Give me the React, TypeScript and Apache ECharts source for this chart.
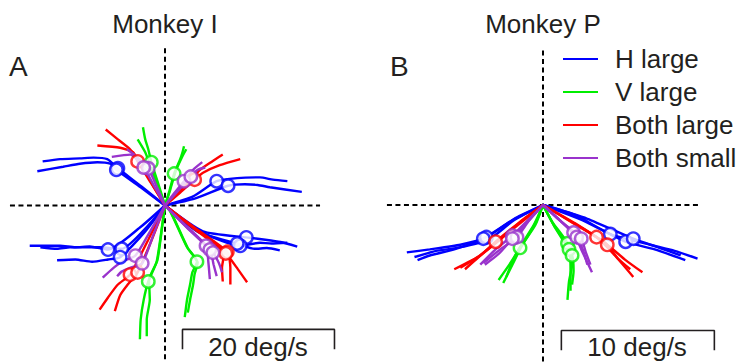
import React, { useEffect, useRef } from "react";
import * as echarts from "echarts";

type Pt = [number, number];

const CONDITIONS = ["H large", "V large", "Both large", "Both small"];
const COLORS = ["#0000ff", "#00ee00", "#ff0000", "#9933cc"];
const TITLES = ["Monkey I", "Monkey P"];
const PANEL_LETTERS = ["A", "B"];
const SCALE_LABELS = ["20 deg/s", "10 deg/s"];

// Panel A (Monkey I) trajectories, deg/s
const A_H_LARGE: Pt[][] = [
  [[0, 0], [-3.1, 2.5], [-6.2, 4.9], [-7.6, 6.1], [-9.4, 6.3], [-11.2, 6.2], [-13.8, 6.1], [-16.1, 5.8]],
  [[0, 0], [-3.2, 2.4], [-6.4, 4.7], [-7.2, 5.5], [-8.9, 5.7], [-11.2, 5.5], [-13.4, 5.1], [-16.8, 4.5]],
  [[0, 0], [3.7, 1.2], [6.8, 3.2], [9.5, 3.6], [12.5, 3.7], [14.2, 3.4], [16.1, 3.2]],
  [[0, 0], [3.9, 0.9], [8.3, 2.6], [10.5, 2.8], [12.2, 2.7], [13.8, 2.4], [18.0, 1.8]],
  [[0, 0], [-3.3, -2.9], [-7.5, -5.8], [-9.9, -5.4], [-11.8, -5.5], [-13.8, -5.3], [-17.8, -5.3]],
  [[0, 0], [-2.2, -2.6], [-5.7, -5.7], [-8.6, -5.5], [-12.5, -5.5], [-14.2, -5.7], [-16.4, -5.5]],
  [[0, 0], [-2.6, -3.4], [-5.9, -6.8], [-7.5, -7.1], [-9.6, -7.4], [-11.8, -7.1], [-14.2, -7.2]],
  [[0, 0], [5.0, -3.4], [10.7, -4.2], [13.2, -4.5], [15.2, -4.8], [17.4, -5.4]],
  [[0, 0], [4.6, -3.4], [9.9, -5.3], [12.5, -4.9], [14.0, -5.0], [16.1, -4.9]],
  [[0, 0], [4.4, -3.5], [9.5, -5.0], [11.8, -5.7], [13.4, -5.6], [15.1, -5.9]],
];
const A_H_LARGE_MARKS: Pt[] = [
  [-6.2, 4.9], [-6.4, 4.7], [6.8, 3.2], [8.3, 2.6],
  [-7.5, -5.8], [-5.7, -5.7], [-5.9, -6.8], [10.7, -4.2], [9.9, -5.3], [9.5, -5.0],
];
const A_V_LARGE: Pt[][] = [
  [[0, 0], [-0.8, 2.6], [-1.8, 5.7], [-2.2, 7.4], [-2.6, 8.7], [-2.9, 10.3]],
  [[0, 0], [-0.9, 2.5], [-2.0, 5.4], [-2.6, 7.0], [-3.6, 8.7]],
  [[0, 0], [0.6, 2.0], [1.2, 4.2], [2.0, 6.1], [2.3, 7.0], [2.5, 7.8]],
  [[0, 0], [0.7, 2.1], [1.4, 4.5], [2.2, 6.3], [2.8, 7.4]],
  [[0, 0], [-0.3, -2.1], [-1.1, -7.4], [-2.2, -10.0], [-2.8, -12.4], [-3.2, -15.0], [-3.3, -17.6]],
  [[0, 0], [-0.3, -2.2], [-1.0, -7.2], [-2.1, -9.8], [-2.0, -12.4], [-2.4, -15.0], [-2.4, -17.2]],
  [[0, 0], [0.7, -0.8], [2.9, -5.5], [4.2, -7.4], [3.6, -8.8], [3.3, -10.4], [2.9, -12.4], [2.6, -14.7]],
  [[0, 0], [0.8, -0.9], [3.0, -5.6], [4.3, -7.5], [3.9, -9.0], [3.7, -10.4], [3.3, -12.4], [3.0, -14.1]],
];
const A_V_LARGE_MARKS: Pt[] = [
  [-1.8, 5.7], [1.2, 4.2], [-2.2, -10.0], [4.2, -7.4],
];
const A_BOTH_LARGE: Pt[][] = [
  [[0, 0], [-1.8, 2.9], [-3.6, 5.8], [-4.2, 7.0], [-5.9, 7.6], [-8.9, 7.9]],
  [[0, 0], [-1.7, 2.8], [-3.3, 5.7], [-4.6, 7.4], [-6.2, 8.7], [-7.8, 10.0]],
  [[0, 0], [2.0, 1.7], [3.9, 3.4], [5.0, 4.3], [7.2, 5.3], [9.9, 6.1]],
  [[0, 0], [1.9, 1.9], [3.7, 3.7], [4.6, 4.7], [6.2, 5.8], [7.6, 6.7]],
  [[0, 0], [-2.2, -4.5], [-4.6, -9.1], [-6.2, -10.4], [-7.5, -12.1], [-8.6, -13.7]],
  [[0, 0], [-1.7, -4.4], [-3.6, -8.8], [-4.9, -10.4], [-5.9, -11.8], [-6.6, -13.9]],
  [[0, 0], [4.0, -3.0], [8.2, -6.1], [8.6, -8.2], [8.6, -10.4]],
  [[0, 0], [3.9, -3.1], [8.0, -6.3], [9.6, -8.4], [10.8, -10.1]],
  [[0, 0], [3.8, -3.0], [7.8, -6.2], [7.5, -8.2], [7.6, -10.0]],
];
const A_BOTH_LARGE_MARKS: Pt[] = [
  [-3.6, 5.8], [3.9, 3.4], [-4.6, -9.1], [-3.6, -8.8], [8.2, -6.1], [8.0, -6.3],
];
const A_BOTH_SMALL: Pt[][] = [
  [[0, 0], [-1.1, 2.5], [-2.2, 4.9], [-3.7, 6.4], [-5.0, 7.4]],
  [[0, 0], [-1.4, 2.5], [-2.8, 5.0], [-4.6, 6.7], [-7.0, 6.4]],
  [[0, 0], [1.2, 1.6], [2.5, 3.2], [3.7, 4.7], [4.9, 5.7]],
  [[0, 0], [1.7, 1.9], [3.4, 3.8], [4.3, 4.7], [5.3, 5.0]],
  [[0, 0], [-1.9, -3.3], [-3.9, -6.6], [-5.7, -7.4], [-7.0, -8.4], [-8.2, -9.5]],
  [[0, 0], [-1.5, -3.8], [-3.0, -7.6], [-4.6, -8.2], [-5.7, -8.7], [-6.3, -9.3]],
  [[0, 0], [2.7, -2.6], [5.4, -5.3], [5.7, -7.4], [5.9, -9.7]],
  [[0, 0], [2.9, -2.9], [5.9, -5.8], [6.4, -7.8], [6.8, -9.3]],
  [[0, 0], [3.1, -3.1], [6.3, -6.2], [7.1, -7.6], [7.5, -8.8]],
];
const A_BOTH_SMALL_MARKS: Pt[] = [
  [-2.2, 4.9], [-2.8, 5.0], [2.5, 3.2], [3.4, 3.8],
  [-3.9, -6.6], [-3.0, -7.6], [5.4, -5.3], [5.9, -5.8], [6.3, -6.2],
];

// Panel B (Monkey P) trajectories, deg/s
const B_H_LARGE: Pt[][] = [
  [[0, 0], [-1.8, -0.85], [-3.7, -2.1], [-5.4, -2.6], [-7.4, -2.9], [-8.9, -3.1]],
  [[0, 0], [-2.0, -1.0], [-3.9, -2.2], [-5.8, -2.9], [-7.4, -3.3], [-8.2, -3.6]],
  [[0, 0], [-1.9, -1.0], [-3.6, -2.3], [-5.6, -2.8], [-7.0, -3.0], [-8.4, -3.4]],
  [[0, 0], [2.1, -0.65], [4.4, -1.9], [7.0, -2.6], [8.6, -3.0], [10.1, -3.5]],
  [[0, 0], [2.6, -1.0], [5.4, -2.4], [7.3, -2.9], [9.3, -3.6]],
  [[0, 0], [2.9, -0.9], [5.9, -2.2], [7.6, -2.8], [9.0, -3.3]],
];
const B_H_LARGE_MARKS: Pt[] = [
  [-3.7, -2.1], [-3.9, -2.2], [4.4, -1.9], [5.4, -2.4], [5.9, -2.2],
];
const B_V_LARGE: Pt[][] = [
  [[0, 0], [-0.5, -1.3], [-1.5, -2.8], [-2.2, -3.9], [-2.9, -4.9]],
  [[0, 0], [-0.5, -1.2], [-1.4, -2.7], [-2.0, -3.9], [-2.6, -5.1]],
  [[0, 0], [-0.6, -1.3], [-1.6, -2.9], [-2.0, -3.7], [-2.4, -4.7]],
  [[0, 0], [0.6, -1.1], [1.6, -2.5], [1.9, -3.9], [1.7, -5.0], [1.6, -6.2]],
  [[0, 0], [0.7, -1.3], [1.7, -2.9], [1.8, -4.3], [1.8, -5.6]],
  [[0, 0], [0.8, -1.5], [1.9, -3.3], [2.0, -4.3], [1.9, -5.2]],
];
const B_V_LARGE_MARKS: Pt[] = [
  [-1.5, -2.8], [1.6, -2.5], [1.7, -2.9], [1.9, -3.3],
];
const B_BOTH_LARGE: Pt[][] = [
  [[0, 0], [-1.5, -1.1], [-3.1, -2.4], [-4.1, -3.3], [-5.8, -4.2]],
  [[0, 0], [-1.5, -1.2], [-3.0, -2.4], [-4.2, -3.4], [-5.1, -4.2]],
  [[0, 0], [-1.6, -1.2], [-3.1, -2.5], [-4.4, -3.5], [-5.4, -4.1]],
  [[0, 0], [1.7, -1.0], [3.5, -2.1], [4.7, -3.3], [5.9, -4.7]],
  [[0, 0], [2.1, -1.2], [4.2, -2.6], [5.4, -3.6], [6.5, -4.4]],
  [[0, 0], [2.0, -1.2], [4.1, -2.5], [4.9, -3.5], [5.7, -4.2]],
];
const B_BOTH_LARGE_MARKS: Pt[] = [
  [-3.1, -2.4], [3.5, -2.1], [4.2, -2.6],
];
const B_BOTH_SMALL: Pt[][] = [
  [[0, 0], [-1.0, -1.0], [-2.0, -2.0], [-3.1, -2.9], [-4.1, -3.9]],
  [[0, 0], [-0.9, -1.0], [-1.7, -2.1], [-2.8, -2.9], [-3.9, -3.8]],
  [[0, 0], [-1.0, -1.1], [-2.0, -2.2], [-2.9, -3.2], [-3.8, -3.9]],
  [[0, 0], [1.0, -0.9], [2.0, -1.8], [2.5, -2.9], [3.2, -4.4]],
  [[0, 0], [1.1, -1.0], [2.2, -2.1], [2.6, -2.9], [2.9, -3.9]],
  [[0, 0], [1.2, -1.1], [2.5, -2.2], [2.8, -3.1], [3.1, -3.9]],
];
const B_BOTH_SMALL_MARKS: Pt[] = [
  [-2.0, -2.0], [-1.7, -2.1], [-2.0, -2.2], [2.0, -1.8], [2.2, -2.1], [2.5, -2.2],
];

// dashed reference axes and scale bars (deg/s)
const A_HLINE: Pt[] = [[-20.4, 0], [20.4, 0]];
const A_VLINE: Pt[] = [[0, 20.7], [0, -21]];
const B_HLINE: Pt[] = [[-10.2, 0], [10.3, 0]];
const B_VLINE: Pt[] = [[0, 10.1], [0, -11]];
const A_SCALEBAR: Pt[] = [[2.3, -18.9], [2.3, -16.3], [22.3, -16.3], [22.3, -18.9]];
const B_SCALEBAR: Pt[] = [[1.2, -9.5], [1.2, -8.2], [11.2, -8.2], [11.2, -9.5]];

const PANELS = [
  {
    traj: [A_H_LARGE, A_V_LARGE, A_BOTH_LARGE, A_BOTH_SMALL],
    marks: [A_H_LARGE_MARKS, A_V_LARGE_MARKS, A_BOTH_LARGE_MARKS, A_BOTH_SMALL_MARKS],
    hline: A_HLINE, vline: A_VLINE, bar: A_SCALEBAR,
  },
  {
    traj: [B_H_LARGE, B_V_LARGE, B_BOTH_LARGE, B_BOTH_SMALL],
    marks: [B_H_LARGE_MARKS, B_V_LARGE_MARKS, B_BOTH_LARGE_MARKS, B_BOTH_SMALL_MARKS],
    hline: B_HLINE, vline: B_VLINE, bar: B_SCALEBAR,
  },
];

const FONT = "'Liberation Sans', Arial, Helvetica, sans-serif";
const INK = "#231f20";

export default function App() {
  const ref = useRef<HTMLDivElement>(null);
  useEffect(() => {
    if (!ref.current) return;
    const chart = echarts.init(ref.current, undefined, { renderer: "svg" });
    const series: any[] = [];
    PANELS.forEach((p, pi) => {
      const dashed = (data: Pt[]) => ({
        type: "line", xAxisIndex: pi, yAxisIndex: pi, data, symbol: "none", silent: true, z: 1, clip: false,
        lineStyle: { color: "#000", width: 2, type: [5, 3.5] },
      });
      series.push(dashed(p.hline), dashed(p.vline));
      series.push({
        type: "line", xAxisIndex: pi, yAxisIndex: pi, data: p.bar, symbol: "none", silent: true, z: 1, clip: false,
        lineStyle: { color: INK, width: 1.6 },
      });
      p.traj.forEach((group, ci) => {
        group.forEach((t) => {
          series.push({
            type: "line", name: CONDITIONS[ci], xAxisIndex: pi, yAxisIndex: pi, data: t,
            symbol: "none", silent: true, z: 2, smooth: 0.2, clip: false,
            lineStyle: { color: COLORS[ci], width: 2.4 }, itemStyle: { color: COLORS[ci] },
          });
        });
      });
      p.marks.forEach((m, ci) => {
        series.push({
          type: "scatter", name: CONDITIONS[ci] + " marker", xAxisIndex: pi, yAxisIndex: pi, data: m,
          symbol: "circle", symbolSize: 12.5, silent: true, z: 3, clip: false,
          itemStyle: { color: "#ffffff", borderColor: COLORS[ci], borderWidth: 2.4 },
        });
      });
    });

    const axisHidden = { show: false, splitLine: { show: false } };
    chart.setOption({
      animation: false,
      backgroundColor: "#ffffff",
      grid: [
        { left: 5.4, top: 53.5, width: 334.4, height: 304 },
        { left: 374.7, top: 59.65, width: 351.9, height: 290.7 },
      ],
      xAxis: [
        { type: "value", gridIndex: 0, min: -21, max: 23, ...axisHidden },
        { type: "value", gridIndex: 1, min: -11, max: 12, ...axisHidden },
      ],
      yAxis: [
        { type: "value", gridIndex: 0, min: -20, max: 20, ...axisHidden },
        { type: "value", gridIndex: 1, min: -9.5, max: 9.5, ...axisHidden },
      ],
      legend: {
        data: CONDITIONS,
        orient: "vertical",
        left: 558,
        top: 41,
        itemWidth: 35,
        itemHeight: 2,
        itemGap: 7,
        icon: "rect",
        selectedMode: false,
        textStyle: { fontSize: 26, fontFamily: FONT, color: INK, lineHeight: 26, padding: [0, 0, 0, 12] },
      },
      graphic: [
        { type: "text", x: 165, y: 24, style: { text: TITLES[0], fill: INK, font: `26px ${FONT}`, textAlign: "center", textVerticalAlign: "middle" } },
        { type: "text", x: 543, y: 24, style: { text: TITLES[1], fill: INK, font: `26px ${FONT}`, textAlign: "center", textVerticalAlign: "middle" } },
        { type: "text", x: 9, y: 66, style: { text: PANEL_LETTERS[0], fill: INK, font: `28px ${FONT}`, textAlign: "left", textVerticalAlign: "middle" } },
        { type: "text", x: 390, y: 66, style: { text: PANEL_LETTERS[1], fill: INK, font: `28px ${FONT}`, textAlign: "left", textVerticalAlign: "middle" } },
        { type: "text", x: 258, y: 347, style: { text: SCALE_LABELS[0], fill: INK, font: `26px ${FONT}`, textAlign: "center", textVerticalAlign: "middle" } },
        { type: "text", x: 637, y: 347, style: { text: SCALE_LABELS[1], fill: INK, font: `26px ${FONT}`, textAlign: "center", textVerticalAlign: "middle" } },
      ],
      series,
    });
    return () => chart.dispose();
  }, []);
  return (
    <div
      ref={ref}
      style={{ position: "fixed", left: 0, top: 0, width: 746, height: 362, background: "#fff" }}
    />
  );
}
